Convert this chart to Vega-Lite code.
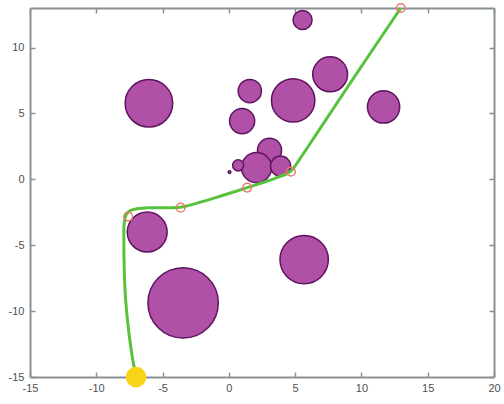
{
  "$schema": "https://vega.github.io/schema/vega-lite/v6.json",
  "width": 464,
  "height": 369,
  "autosize": "none",
  "padding": {"left": 30, "top": 8, "right": 10, "bottom": 27},
  "config": {"view": {"stroke": null}, "font": "Liberation Sans"},
  "datasets": {
    "obstacles": [
      {"x": -6.03, "y": 5.77, "r": 1.8},
      {"x": 5.56, "y": 12.09, "r": 0.72},
      {"x": 7.64, "y": 7.97, "r": 1.32},
      {"x": 4.85, "y": 5.99, "r": 1.64},
      {"x": 11.67, "y": 5.49, "r": 1.22},
      {"x": 1.58, "y": 6.7, "r": 0.88},
      {"x": 1.0, "y": 4.42, "r": 0.95},
      {"x": 3.07, "y": 2.2, "r": 0.91},
      {"x": 2.09, "y": 0.89, "r": 1.14},
      {"x": 3.9, "y": 1.0, "r": 0.76},
      {"x": 0.7, "y": 1.06, "r": 0.42},
      {"x": 0.05, "y": 0.55, "r": 0.1},
      {"x": -6.16, "y": -4.0, "r": 1.51},
      {"x": -3.45, "y": -9.38, "r": 2.66},
      {"x": 5.68, "y": -6.09, "r": 1.83}
    ],
    "path": [
      {"i": 0, "x": -6.96, "y": -15.0},
      {"i": 1, "x": -7.16, "y": -14.17},
      {"i": 2, "x": -7.54, "y": -11.63},
      {"i": 3, "x": -7.79, "y": -9.1},
      {"i": 4, "x": -7.9, "y": -6.45},
      {"i": 5, "x": -7.92, "y": -4.55},
      {"i": 6, "x": -7.9, "y": -3.41},
      {"i": 7, "x": -7.77, "y": -2.73},
      {"i": 8, "x": -7.47, "y": -2.39},
      {"i": 9, "x": -6.94, "y": -2.24},
      {"i": 10, "x": -6.03, "y": -2.16},
      {"i": 11, "x": -4.9, "y": -2.15},
      {"i": 12, "x": -3.64, "y": -2.12},
      {"i": 13, "x": -2.26, "y": -1.77},
      {"i": 14, "x": -1.0, "y": -1.39},
      {"i": 15, "x": 0.25, "y": -1.0},
      {"i": 16, "x": 1.38, "y": -0.63},
      {"i": 17, "x": 2.41, "y": -0.3},
      {"i": 18, "x": 3.39, "y": 0.04},
      {"i": 19, "x": 4.15, "y": 0.33},
      {"i": 20, "x": 4.68, "y": 0.62},
      {"i": 21, "x": 5.28, "y": 1.44},
      {"i": 22, "x": 6.79, "y": 3.72},
      {"i": 23, "x": 9.8, "y": 8.27},
      {"i": 24, "x": 12.97, "y": 13.0}
    ],
    "waypoints": [
      {"x": -7.59, "y": -2.83},
      {"x": -3.64, "y": -2.15},
      {"x": 1.38, "y": -0.63},
      {"x": 4.68, "y": 0.58},
      {"x": 12.97, "y": 13.0}
    ],
    "start": [{"x": -7.0, "y": -15.0}]
  },
  "resolve": {"axis": {"x": "independent", "y": "independent"}},
  "layer": [
    {
      "data": {"name": "obstacles"},
      "mark": {"type": "point", "shape": "circle", "filled": true, "fill": "#b050a6", "stroke": "#5e1460", "strokeWidth": 1.5, "opacity": 1},
      "encoding": {
        "x": {"field": "x", "type": "quantitative", "scale": {"domain": [-15, 20], "nice": false, "zero": false},
          "axis": {"orient": "bottom", "values": [-15, -10, -5, 0, 5, 10, 15, 20], "labelExpr": "toString(datum.value)", "tickSize": -5, "domainColor": "#8a9196", "domainWidth": 2, "tickColor": "#8a9196", "tickWidth": 1.5, "labelColor": "#505050", "labelFontSize": 11, "labelPadding": 10, "grid": false, "title": null, "labelFlush": false}},
        "y": {"field": "y", "type": "quantitative", "scale": {"domain": [-15, 13], "nice": false, "zero": false},
          "axis": {"orient": "left", "values": [-15, -10, -5, 0, 5, 10], "labelExpr": "toString(datum.value)", "tickSize": -5, "domainColor": "#8a9196", "domainWidth": 2, "tickColor": "#8a9196", "tickWidth": 1.5, "labelColor": "#505050", "labelFontSize": 11, "labelPadding": 11, "grid": false, "title": null, "labelFlush": false}},
        "size": {"field": "r", "type": "quantitative", "scale": {"type": "pow", "exponent": 2, "domain": [0, 3], "range": [0, 6290]}, "legend": null}
      }
    },
    {
      "data": {"name": "path"},
      "mark": {"type": "line", "interpolate": "catmull-rom", "color": "#58c23c", "strokeWidth": 3},
      "encoding": {
        "x": {"field": "x", "type": "quantitative",
          "axis": {"orient": "top", "values": [-15, -10, -5, 0, 5, 10, 15, 20], "tickSize": -5, "labels": false, "domainColor": "#8a9196", "domainWidth": 2, "tickColor": "#8a9196", "tickWidth": 1.5, "grid": false, "title": null}},
        "y": {"field": "y", "type": "quantitative",
          "axis": {"orient": "right", "values": [-15, -10, -5, 0, 5, 10], "tickSize": -5, "labels": false, "domainColor": "#8a9196", "domainWidth": 2, "tickColor": "#8a9196", "tickWidth": 1.5, "grid": false, "title": null}},
        "order": {"field": "i", "type": "quantitative"}
      }
    },
    {
      "data": {"name": "waypoints"},
      "mark": {"type": "point", "shape": "circle", "filled": false, "stroke": "#e87a6a", "strokeWidth": 1.5, "size": 75, "opacity": 1},
      "encoding": {
        "x": {"field": "x", "type": "quantitative", "axis": null},
        "y": {"field": "y", "type": "quantitative", "axis": null}
      }
    },
    {
      "data": {"name": "start"},
      "mark": {"type": "point", "shape": "circle", "filled": true, "fill": "#f7d417", "strokeWidth": 0, "size": 424, "opacity": 1},
      "encoding": {
        "x": {"field": "x", "type": "quantitative", "axis": null},
        "y": {"field": "y", "type": "quantitative", "axis": null}
      }
    }
  ]
}
